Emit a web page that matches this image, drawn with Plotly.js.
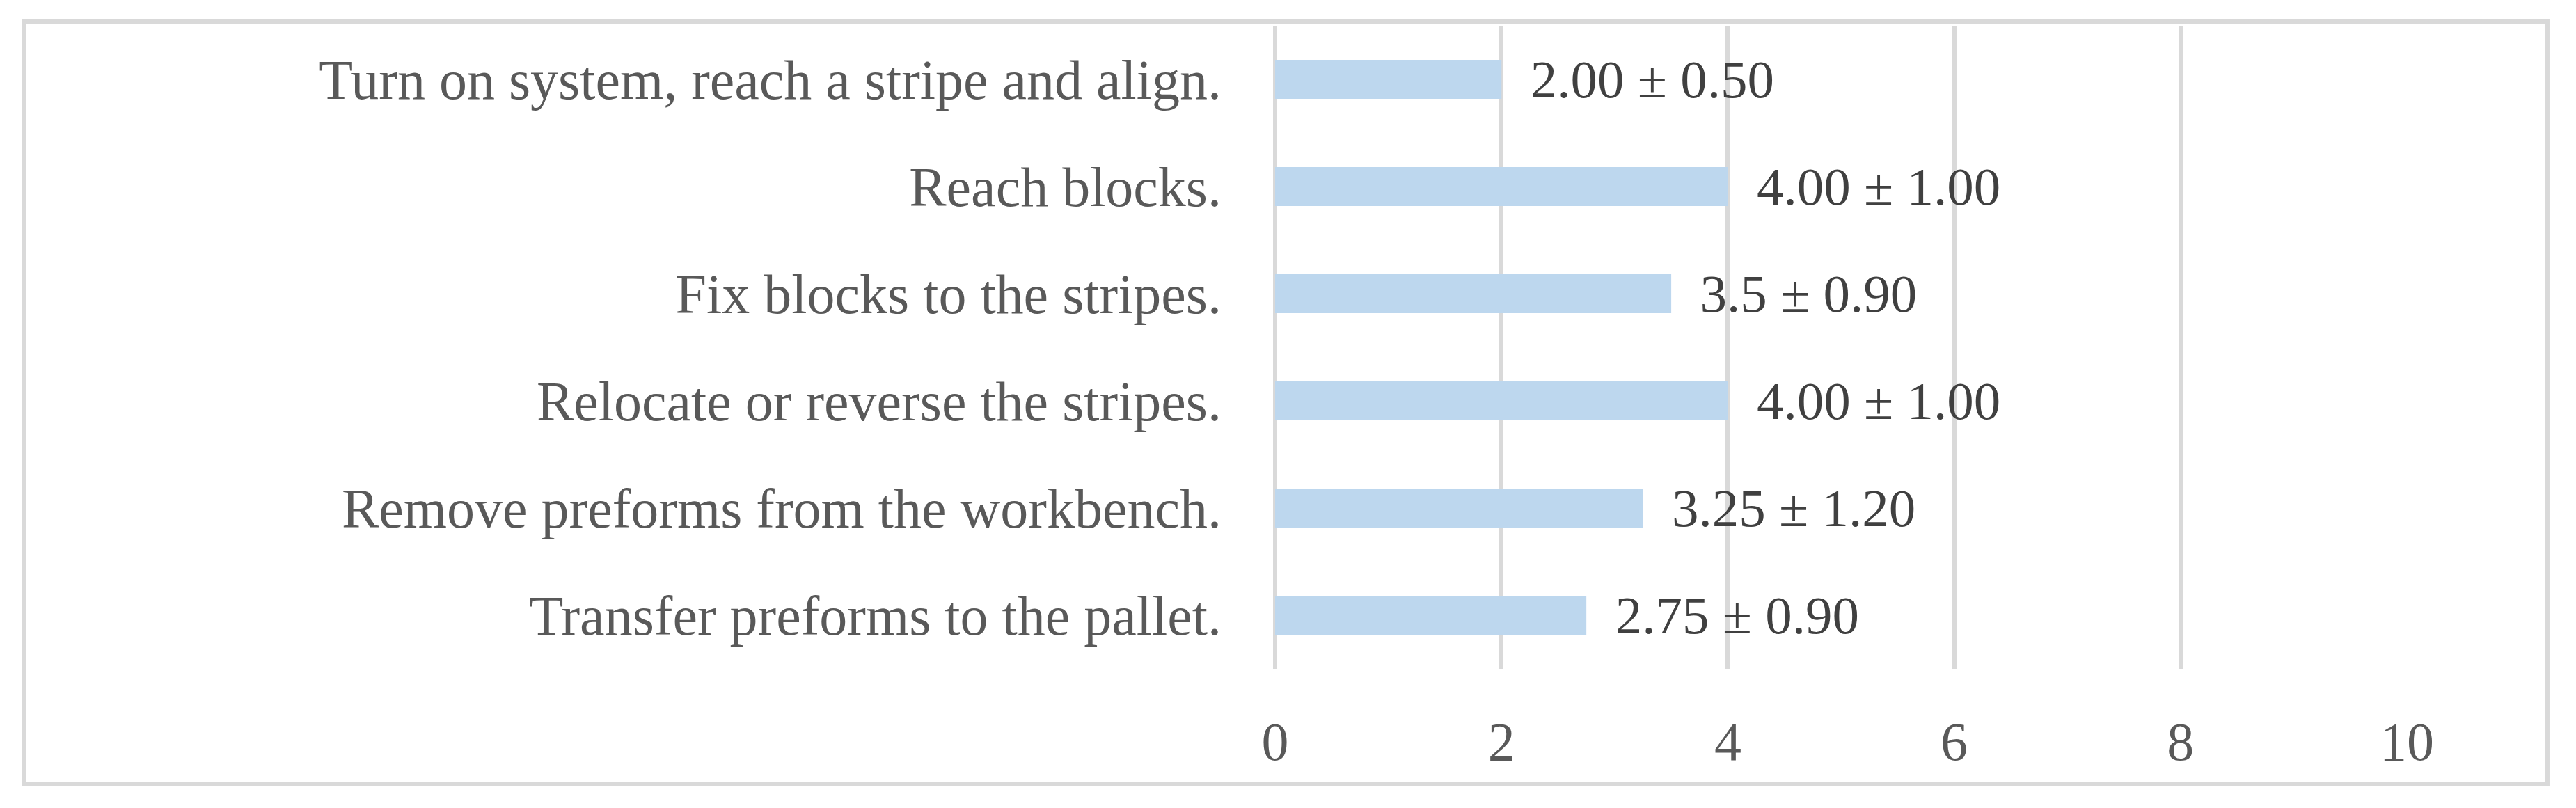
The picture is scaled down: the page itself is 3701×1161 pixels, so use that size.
<!DOCTYPE html>
<html>
<head>
<meta charset="utf-8">
<script src="https://cdn.plot.ly/plotly-3.0.1.min.js"></script>
<style>
  html, body { margin: 0; padding: 0; background: #fff; }
  #chart { width: 3701px; height: 1161px; }
</style>
</head>
<body>
<div id="chart"></div>
<script>
// task steps, top to bottom as in the figure
let steps = [
  'Turn on system, reach a stripe and align.',
  'Reach blocks.',
  'Fix blocks to the stripes.',
  'Relocate or reverse the stripes.',
  'Remove preforms from the workbench.',
  'Transfer preforms to the pallet.'
];
let mean_time = [2.00, 4.00, 3.5, 4.00, 3.25, 2.75];
let sd_time = [0.50, 1.00, 0.90, 1.00, 1.20, 0.90];
let mean_text = ['2.00', '4.00', '3.5', '4.00', '3.25', '2.75'];
let x_ticks = [0, 2, 4, 6, 8, 10];

let font_name = '"Liberation Serif", "Times New Roman", serif';

let labels = mean_text.map((m, i) => '\u00a0\u00a0' + m + ' ± ' + sd_time[i].toFixed(2));

let trace = {
  type: 'bar',
  orientation: 'h',
  x: mean_time,
  y: steps,
  text: labels,
  textposition: 'outside',
  constraintext: 'none',
  cliponaxis: false,
  textfont: {family: font_name, size: 77, color: '#404040'},
  marker: {color: '#bdd7ee'},
  hoverinfo: 'none'
};

let layout = {
  width: 3701,
  height: 1161,
  margin: {l: 1832, r: 243, t: 37, b: 200, pad: 0},
  paper_bgcolor: '#ffffff',
  plot_bgcolor: '#ffffff',
  showlegend: false,
  bargap: 0.636,
  font: {family: font_name, size: 78, color: '#595959'},
  xaxis: {
    range: [0, 10],
    tickvals: x_ticks,
    ticktext: x_ticks.map(String),
    showgrid: true,
    gridcolor: '#d9d9d9',
    gridwidth: 6,
    zeroline: true,
    zerolinecolor: '#d9d9d9',
    zerolinewidth: 6,
    showline: false,
    ticks: '',
    ticklabelstandoff: 52,
    tickfont: {family: font_name, size: 78, color: '#595959'}
  },
  yaxis: {
    type: 'category',
    autorange: 'reversed',
    showgrid: false,
    zeroline: false,
    showline: false,
    ticks: '',
    ticklabelstandoff: 76,
    tickfont: {family: font_name, size: 80, color: '#595959'}
  },
  shapes: [{
    // outer chart border
    type: 'rect', xref: 'paper', yref: 'paper',
    x0: -1.1052, x1: 1.1242, y0: -0.1786, y1: 1.0065,
    line: {color: '#d9d9d9', width: 6},
    fillcolor: 'rgba(0,0,0,0)'
  }]
};

Plotly.newPlot('chart', [trace], layout, {displayModeBar: false, staticPlot: true});
</script>
</body>
</html>
